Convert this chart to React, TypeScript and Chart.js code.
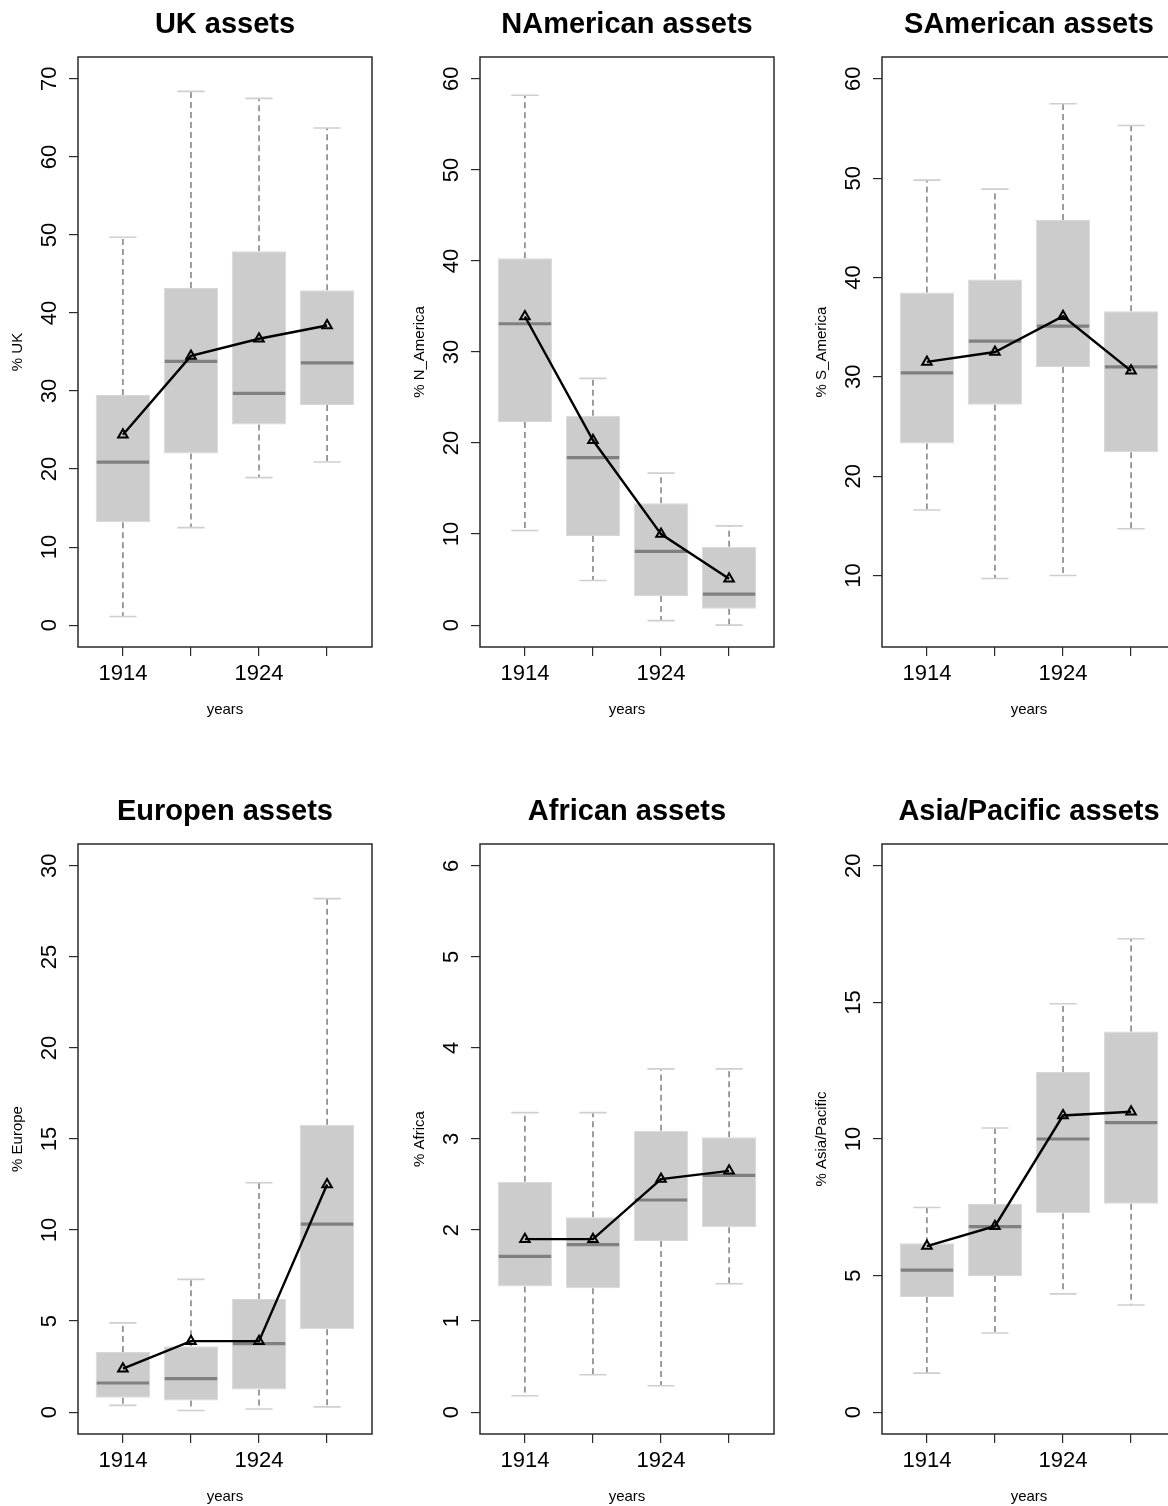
import React, { useEffect, useRef } from "react";
import { Chart, registerables } from "chart.js";

Chart.register(...registerables);

const years = ["1914", "1919", "1924", "1929"];
const xTickLabels = ["1914", "", "1924", ""];

// UK assets
const ukLo = [1.1, 12.5, 18.9, 20.9];
const ukQ1 = [13.2, 22.0, 25.7, 28.2];
const ukMed = [20.9, 33.8, 29.7, 33.6];
const ukQ3 = [29.5, 43.2, 47.9, 42.9];
const ukHi = [49.7, 68.4, 67.5, 63.7];
const ukMean = [24.4, 34.5, 36.7, 38.4];
const ukLim = [0, 70];
const ukTicks = [0, 10, 20, 30, 40, 50, 60, 70];

// North American assets
const naLo = [10.4, 4.9, 0.5, 0.0];
const naQ1 = [22.3, 9.8, 3.2, 1.8];
const naMed = [33.1, 18.4, 8.1, 3.4];
const naQ3 = [40.3, 23.0, 13.4, 8.6];
const naHi = [58.2, 27.1, 16.7, 10.9];
const naMean = [33.9, 20.3, 10.0, 5.1];
const naLim = [0, 60];
const naTicks = [0, 10, 20, 30, 40, 50, 60];

// South American assets
const saLo = [16.6, 9.7, 10.0, 14.7];
const saQ1 = [23.3, 27.2, 31.0, 22.4];
const saMed = [30.4, 33.6, 35.1, 31.0];
const saQ3 = [38.5, 39.8, 45.8, 36.6];
const saHi = [49.8, 48.9, 57.5, 55.3];
const saMean = [31.5, 32.5, 36.1, 30.6];
const saLim = [5, 60];
const saTicks = [10, 20, 30, 40, 50, 60];

// European assets
const euLo = [0.37, 0.09, 0.17, 0.29];
const euQ1 = [0.79, 0.64, 1.25, 4.55];
const euMed = [1.6, 1.84, 3.76, 10.33];
const euQ3 = [3.3, 3.62, 6.22, 15.78];
const euHi = [4.9, 7.29, 12.6, 28.2];
const euMean = [2.39, 3.9, 3.9, 12.5];
const euLim = [0, 30];
const euTicks = [0, 5, 10, 15, 20, 25, 30];

// African assets
const afLo = [0.18, 0.41, 0.29, 1.41];
const afQ1 = [1.38, 1.36, 1.88, 2.03];
const afMed = [1.71, 1.84, 2.33, 2.6];
const afQ3 = [2.53, 2.14, 3.09, 3.02];
const afHi = [3.29, 3.29, 3.77, 3.77];
const afMean = [1.9, 1.9, 2.56, 2.65];
const afLim = [0, 6];
const afTicks = [0, 1, 2, 3, 4, 5, 6];

// Asia/Pacific assets
const apLo = [1.43, 2.9, 4.33, 3.92];
const apQ1 = [4.22, 4.98, 7.28, 7.63];
const apMed = [5.2, 6.79, 10.0, 10.6];
const apQ3 = [6.18, 7.62, 12.45, 13.94];
const apHi = [7.49, 10.4, 14.95, 17.33];
const apMean = [6.08, 6.81, 10.86, 11.0];
const apLim = [0, 20];
const apTicks = [0, 5, 10, 15, 20];

type Panel = {
  title: string;
  yTitle: string;
  lim: number[];
  ticks: number[];
  lo: number[];
  q1: number[];
  med: number[];
  q3: number[];
  hi: number[];
  mean: number[];
  col: number;
  row: number;
};

const panels: Panel[] = [
  { title: "UK assets", yTitle: "% UK", lim: ukLim, ticks: ukTicks, lo: ukLo, q1: ukQ1, med: ukMed, q3: ukQ3, hi: ukHi, mean: ukMean, col: 0, row: 0 },
  { title: "NAmerican assets", yTitle: "% N_America", lim: naLim, ticks: naTicks, lo: naLo, q1: naQ1, med: naMed, q3: naQ3, hi: naHi, mean: naMean, col: 1, row: 0 },
  { title: "SAmerican assets", yTitle: "% S_America", lim: saLim, ticks: saTicks, lo: saLo, q1: saQ1, med: saMed, q3: saQ3, hi: saHi, mean: saMean, col: 2, row: 0 },
  { title: "Europen assets", yTitle: "% Europe", lim: euLim, ticks: euTicks, lo: euLo, q1: euQ1, med: euMed, q3: euQ3, hi: euHi, mean: euMean, col: 0, row: 1 },
  { title: "African assets", yTitle: "% Africa", lim: afLim, ticks: afTicks, lo: afLo, q1: afQ1, med: afMed, q3: afQ3, hi: afHi, mean: afMean, col: 1, row: 1 },
  { title: "Asia/Pacific assets", yTitle: "% Asia/Pacific", lim: apLim, ticks: apTicks, lo: apLo, q1: apQ1, med: apMed, q3: apQ3, hi: apHi, mean: apMean, col: 2, row: 1 },
];

const PANEL_W = 402;
const PANEL_H = 787;
const FONT = "'Liberation Sans', Arial, Helvetica, sans-serif";

function PanelChart({ p }: { p: Panel }) {
  const ref = useRef<HTMLCanvasElement>(null);
  useEffect(() => {
    const canvas = ref.current;
    if (!canvas) return;
    const span = p.lim[1] - p.lim[0];
    const yMin = p.lim[0] - 0.04 * span;
    const yMax = p.lim[1] + 0.04 * span;

    const extras = {
      id: "boxExtras",
      beforeDatasetsDraw(chart: any) {
        const ctx = chart.ctx;
        const xs = chart.scales.x;
        const ys = chart.scales.y;
        ctx.save();
        years.forEach((_, i) => {
          const xc = xs.getPixelForValue(i + 1);
          ctx.strokeStyle = "#6a6a6a";
          ctx.lineWidth = 1.3;
          ctx.setLineDash([6, 4]);
          ctx.beginPath();
          ctx.moveTo(xc, ys.getPixelForValue(p.q3[i]));
          ctx.lineTo(xc, ys.getPixelForValue(p.hi[i]));
          ctx.moveTo(xc, ys.getPixelForValue(p.q1[i]));
          ctx.lineTo(xc, ys.getPixelForValue(p.lo[i]));
          ctx.stroke();
          ctx.setLineDash([]);
          ctx.strokeStyle = "#cfcfcf";
          ctx.lineWidth = 1.6;
          const sl = xs.getPixelForValue(i + 1 - 0.2);
          const sr = xs.getPixelForValue(i + 1 + 0.2);
          ctx.beginPath();
          ctx.moveTo(sl, ys.getPixelForValue(p.hi[i]));
          ctx.lineTo(sr, ys.getPixelForValue(p.hi[i]));
          ctx.moveTo(sl, ys.getPixelForValue(p.lo[i]));
          ctx.lineTo(sr, ys.getPixelForValue(p.lo[i]));
          ctx.stroke();
        });
        ctx.restore();
      },
      afterDatasetDraw(chart: any, args: any) {
        if (args.index !== 0) return;
        const ctx = chart.ctx;
        const xs = chart.scales.x;
        const ys = chart.scales.y;
        ctx.save();
        ctx.strokeStyle = "#808080";
        ctx.lineWidth = 3.2;
        years.forEach((_, i) => {
          const y = ys.getPixelForValue(p.med[i]);
          ctx.beginPath();
          ctx.moveTo(xs.getPixelForValue(i + 1 - 0.385), y);
          ctx.lineTo(xs.getPixelForValue(i + 1 + 0.385), y);
          ctx.stroke();
        });
        ctx.restore();
      },
      afterDraw(chart: any) {
        const ctx = chart.ctx;
        const a = chart.chartArea;
        const ys = chart.scales.y;
        ctx.save();
        ctx.strokeStyle = "#2a2a2a";
        ctx.lineWidth = 1.5;
        ctx.strokeRect(a.left, a.top, a.right - a.left, a.bottom - a.top);
        ctx.fillStyle = "#000";
        ctx.font = `22px ${FONT}`;
        ctx.textAlign = "center";
        ctx.textBaseline = "middle";
        p.ticks.forEach((v) => {
          const y = ys.getPixelForValue(v);
          ctx.save();
          ctx.translate(50, y);
          ctx.rotate(-Math.PI / 2);
          ctx.fillText(String(v), 0, 0);
          ctx.restore();
        });
        const cx = (a.left + a.right) / 2;
        const cy = (a.top + a.bottom) / 2;
        ctx.font = `bold 29px ${FONT}`;
        ctx.fillText(p.title, cx, 25);
        ctx.font = `15px ${FONT}`;
        ctx.fillText("years", cx, 710);
        ctx.save();
        ctx.translate(18, cy);
        ctx.rotate(-Math.PI / 2);
        ctx.fillText(p.yTitle, 0, 0);
        ctx.restore();
        ctx.restore();
      },
    };

    const chart = new Chart(canvas, {
      type: "bar",
      data: {
        datasets: [
          {
            type: "bar",
            data: years.map((_, i) => ({ x: i + 1, y: [p.q1[i], p.q3[i]] })) as any,
            backgroundColor: "#cccccc",
            borderColor: "#d8d8d8",
            borderWidth: 1,
            borderSkipped: false,
            barPercentage: 0.8,
            categoryPercentage: 1,
            order: 2,
          } as any,
          {
            type: "line",
            data: years.map((_, i) => ({ x: i + 1, y: p.mean[i] })) as any,
            borderColor: "#000",
            borderWidth: 2.4,
            tension: 0,
            pointStyle: "triangle",
            pointRadius: 5.5,
            pointBorderWidth: 2,
            pointBackgroundColor: "rgba(0,0,0,0)",
            pointBorderColor: "#000",
            order: 1,
          } as any,
        ],
      },
      plugins: [extras],
      options: {
        responsive: false,
        maintainAspectRatio: false,
        animation: false,
        events: [],
        layout: { padding: { top: 57, right: PANEL_W - 372, left: 0, bottom: 0 } },
        plugins: {
          legend: { display: false },
          tooltip: { enabled: false },
          title: { display: false },
        },
        scales: {
          x: {
            type: "linear",
            min: 0.34,
            max: 4.66,
            offset: false,
            afterBuildTicks: (s: any) => {
              s.ticks = years.map((_, i) => ({ value: i + 1 }));
            },
            afterFit: (s: any) => {
              s.height = PANEL_H - 647;
            },
            ticks: {
              autoSkip: false,
              maxRotation: 0,
              minRotation: 0,
              padding: 5,
              color: "#000",
              font: { family: FONT, size: 22 },
              callback: (_v: any, i: number) => xTickLabels[i],
            },
            grid: { offset: false, drawOnChartArea: false, drawTicks: true, tickLength: 9, color: "#2a2a2a", lineWidth: 1.2 },
            border: { display: false },
          },
          y: {
            type: "linear",
            min: yMin,
            max: yMax,
            afterBuildTicks: (s: any) => {
              s.ticks = p.ticks.map((v) => ({ value: v }));
            },
            afterFit: (s: any) => {
              s.width = 78;
            },
            ticks: { display: false },
            grid: { drawOnChartArea: false, drawTicks: true, tickLength: 9, color: "#2a2a2a", lineWidth: 1.2 },
            border: { display: false },
          },
        },
      } as any,
    });
    return () => chart.destroy();
  }, [p]);

  return (
    <canvas
      ref={ref}
      width={PANEL_W}
      height={PANEL_H}
      style={{
        position: "absolute",
        left: p.col * PANEL_W,
        top: p.row * PANEL_H,
        width: PANEL_W,
        height: PANEL_H,
        display: "block",
      }}
    />
  );
}

export default function App() {
  return (
    <div
      style={{
        position: "absolute",
        left: 0,
        top: 0,
        width: 1168,
        height: 1506,
        overflow: "hidden",
        background: "#ffffff",
      }}
    >
      {panels.map((p) => (
        <PanelChart key={p.title} p={p} />
      ))}
    </div>
  );
}
